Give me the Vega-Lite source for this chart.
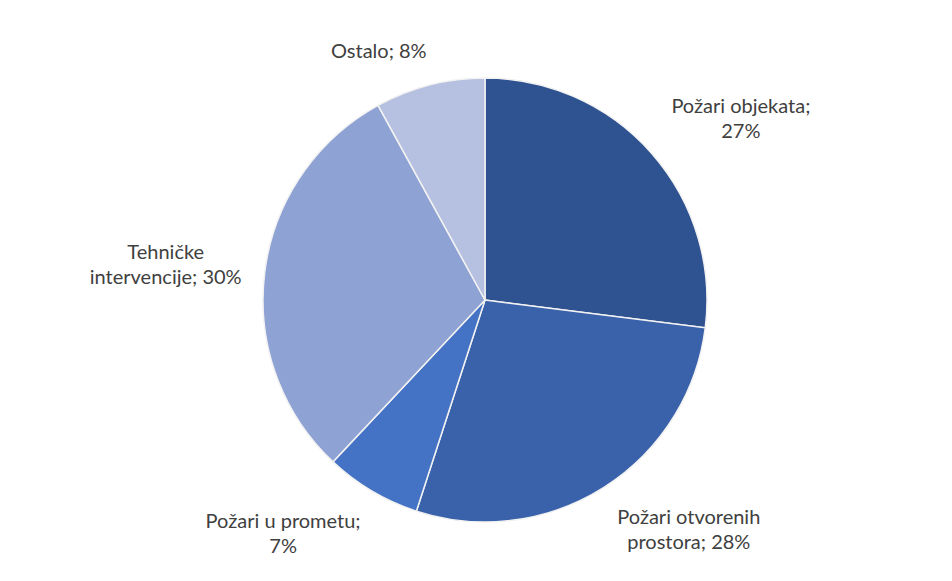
{
  "$schema": "https://vega.github.io/schema/vega-lite/v6.json",
  "width": 934,
  "height": 562,
  "autosize": {"type": "none"},
  "padding": {"left": 18, "right": 0, "top": 19, "bottom": 0},
  "background": "white",
  "view": {"stroke": null},
  "data": {
    "values": [
      {"kategorija": "Požari objekata", "udio": 27, "red": 1, "oznaka": "Požari objekata;\n27%"},
      {"kategorija": "Požari otvorenih prostora", "udio": 28, "red": 2, "oznaka": "Požari otvorenih\nprostora; 28%"},
      {"kategorija": "Požari u prometu", "udio": 7, "red": 3, "oznaka": "Požari u prometu;\n7%"},
      {"kategorija": "Tehničke intervencije", "udio": 30, "red": 4, "oznaka": "Tehničke\nintervencije; 30%"},
      {"kategorija": "Ostalo", "udio": 8, "red": 5, "oznaka": "Ostalo; 8%"}
    ]
  },
  "encoding": {
    "theta": {"field": "udio", "type": "quantitative", "stack": true},
    "order": {"field": "red", "type": "quantitative", "sort": "ascending"}
  },
  "layer": [
    {
      "mark": {"type": "arc", "outerRadius": 222, "stroke": "#f2f2f2", "strokeWidth": 1.5},
      "encoding": {
        "color": {
          "field": "kategorija",
          "type": "nominal",
          "scale": {
            "domain": ["Požari objekata", "Požari otvorenih prostora", "Požari u prometu", "Tehničke intervencije", "Ostalo"],
            "range": ["#2F5290", "#3A62AA", "#4472C4", "#8FA2D4", "#B6C0E0"]
          },
          "legend": null
        }
      }
    },
    {
      "mark": {
        "type": "text",
        "radius": 243,
        "font": "Lato",
        "fontSize": 20,
        "color": "#404040",
        "align": "center",
        "baseline": "middle",
        "dx": {"expr": "clamp(4*sin(PI*(datum.udio_start+datum.udio_end)/100),-1,1)*4.6*(indexof(datum.oznaka,'\\n') < 0 ? length(datum.oznaka) : max(indexof(datum.oznaka,'\\n'), length(datum.oznaka)-indexof(datum.oznaka,'\\n')-1))"},
        "dy": {"expr": "-clamp(1.2*cos(PI*(datum.udio_start+datum.udio_end)/100),-1,1)*12.5*(indexof(datum.oznaka,'\\n') < 0 ? 1 : 2) - 12.5*(indexof(datum.oznaka,'\\n') < 0 ? 0 : 1)"},
        "lineBreak": "\n",
        "lineHeight": 25
      },
      "encoding": {
        "text": {"field": "oznaka", "type": "nominal"}
      }
    }
  ]
}
